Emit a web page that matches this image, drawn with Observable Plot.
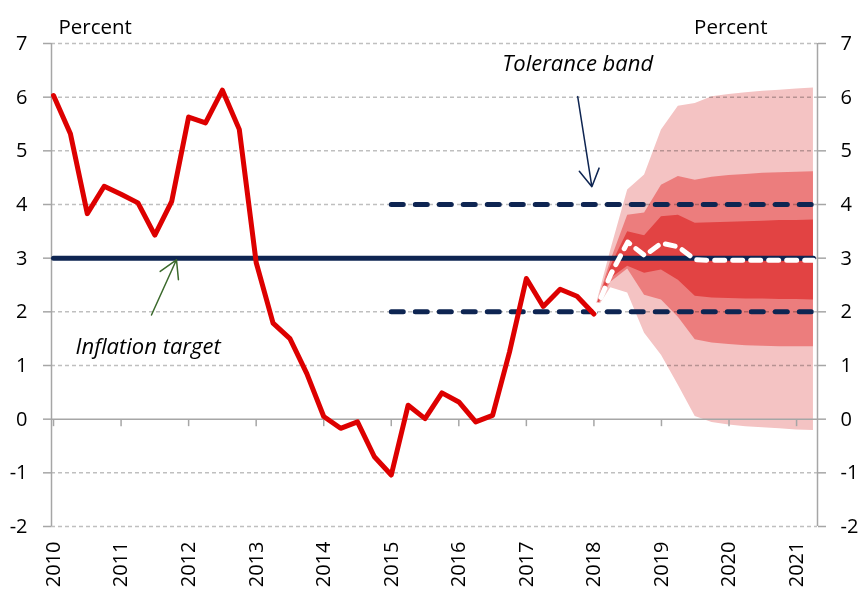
<!DOCTYPE html>
<html>
<head>
<meta charset="utf-8">
<script src="https://cdn.jsdelivr.net/npm/d3@7"></script>
<script src="https://cdn.jsdelivr.net/npm/@observablehq/plot@0.6"></script>
<style>
  html, body { margin: 0; padding: 0; background: #fff; }
  #chart svg { display: block; }
</style>
</head>
<body>
<div id="chart"></div>
<script>
// ---------- data (quarterly, starting 2010 Q1) ----------
const startYear = 2010;
const actualInflation = [
  6.03, 5.32, 3.83, 4.34,
  4.19, 4.03, 3.43, 4.06,
  5.63, 5.52, 6.13, 5.40,
  2.92, 1.79, 1.50, 0.85,
  0.05, -0.17, -0.05, -0.70,
  -1.04, 0.26, 0.01, 0.49,
  0.32, -0.05, 0.07, 1.25,
  2.62, 2.10, 2.42, 2.29,
  1.96
];
const forecastStartIndex = 32;
const forecastCentral = [1.96, 2.70, 3.30, 3.05, 3.28, 3.21, 2.97, 2.96, 2.96, 2.96, 2.96, 2.96, 2.96, 2.96];
const band90Low  = [1.96, 2.45, 2.35, 1.60, 1.19, 0.63, 0.05, -0.06, -0.11, -0.14, -0.16, -0.18, -0.20, -0.21];
const band90High = [1.96, 3.15, 4.27, 4.55, 5.39, 5.83, 5.88, 6.01, 6.05, 6.08, 6.11, 6.13, 6.15, 6.17];
const band60Low  = [1.96, 2.55, 2.80, 2.31, 2.22, 1.90, 1.48, 1.42, 1.39, 1.37, 1.36, 1.35, 1.35, 1.35];
const band60High = [1.96, 2.95, 3.80, 3.84, 4.36, 4.52, 4.45, 4.51, 4.54, 4.56, 4.58, 4.59, 4.60, 4.61];
const band30Low  = [1.96, 2.62, 2.85, 2.72, 2.78, 2.59, 2.29, 2.26, 2.25, 2.24, 2.24, 2.23, 2.23, 2.22];
const band30High = [1.96, 2.85, 3.49, 3.42, 3.77, 3.80, 3.65, 3.66, 3.67, 3.68, 3.69, 3.70, 3.70, 3.71];

const inflationTarget = 3;
const toleranceBand = [2, 4];
const toleranceStartIndex = 20;  // 2015 Q1
const lastIndex = 45;            // 2021 Q2

const yTicks = [-2, -1, 0, 1, 2, 3, 4, 5, 6, 7];
const yearTicks = [2010, 2011, 2012, 2013, 2014, 2015, 2016, 2017, 2018, 2019, 2020, 2021];
const xDomain = [2009.97, 2021.31];
const yDomain = [-2, 7];
const unitLabel = "Percent";

const noteLabels = ["Tolerance band", "Inflation target"];
const noteX = [2017.76, 2011.40];
const noteY = [6.62, 1.35];
const arrowFromX = [2017.76, 2011.45];
const arrowFromY = [6.01, 1.94];
const arrowToX = [2017.97, 2011.82];
const arrowToY = [4.33, 2.97];

// ---------- derived tables ----------
const q = (i) => startYear + i / 4;
const actual = actualInflation.map((v, i) => ({t: q(i), v}));
const fan = forecastCentral.map((c, k) => ({
  t: q(forecastStartIndex + k), c,
  lo90: band90Low[k], hi90: band90High[k],
  lo60: band60Low[k], hi60: band60High[k],
  lo30: band30Low[k], hi30: band30High[k]
}));
const targetLine = [{t: q(0), v: inflationTarget}, {t: q(lastIndex), v: inflationTarget}];
const tolLines = toleranceBand.flatMap((b) => [
  {t: q(toleranceStartIndex), v: b, key: b},
  {t: q(lastIndex), v: b, key: b}
]);
const notes = noteLabels.map((label, i) => ({label, x: noteX[i], y: noteY[i]}));
const arrows = noteLabels.map((label, i) => ({
  label, x1: arrowFromX[i], y1: arrowFromY[i], x2: arrowToX[i], y2: arrowToY[i]
}));

const navy = "#0E2552";
const grey = "#A6A6A6";
const font = "'Open Sans', 'DejaVu Sans', sans-serif";
const tickDown = {draw(ctx) { ctx.moveTo(0, 0); ctx.lineTo(0, 7); }};

const chart = Plot.plot({
  width: 861,
  height: 590,
  marginLeft: 51,
  marginRight: 44,
  marginTop: 43,
  marginBottom: 64,
  style: {fontFamily: font, fontSize: "20px", color: "#000", background: "#fff"},
  x: {type: "linear", domain: xDomain},
  y: {domain: yDomain},
  marks: [
    // fan chart
    Plot.areaY(fan, {x: "t", y1: "lo90", y2: "hi90", fill: "#F4C3C3"}),
    Plot.areaY(fan, {x: "t", y1: "lo60", y2: "hi60", fill: "#EC7D7D"}),
    Plot.areaY(fan, {x: "t", y1: "lo30", y2: "hi30", fill: "#E24343"}),
    // gridlines
    Plot.ruleY(yTicks.filter((d) => d !== 0), {
      y: (d) => d, stroke: "#BFBFBF", strokeWidth: 1.5, strokeDasharray: "4,3", mixBlendMode: "multiply"
    }),
    Plot.ruleY([0], {y: (d) => d, stroke: grey, strokeWidth: 1.5}),
    Plot.ruleX(xDomain, {x: (d) => d, stroke: grey, strokeWidth: 1.5}),
    Plot.dot(yearTicks, {x: (d) => d, y: () => 0, symbol: tickDown, stroke: grey, strokeWidth: 1.5, fill: "none"}),
    // axes
    Plot.axisY(yTicks, {anchor: "left", tickSize: 8, tickPadding: 16, tickFormat: (d) => String(d),
      stroke: grey, strokeWidth: 1.5, fill: "#000", fontSize: 20, label: null}),
    Plot.axisY(yTicks, {anchor: "right", tickSize: 8, tickPadding: 15, tickFormat: (d) => String(d),
      stroke: grey, strokeWidth: 1.5, fill: "#000", fontSize: 20, label: null}),
    Plot.axisX(yearTicks, {anchor: "bottom", tickSize: 0, tickPadding: 15, tickRotate: -90,
      tickFormat: (d) => String(d), fill: "#000", fontSize: 20, label: null}),
    // target and tolerance band
    Plot.line(targetLine, {x: "t", y: "v", stroke: navy, strokeWidth: 5, strokeLinecap: "round"}),
    Plot.line(tolLines, {x: "t", y: "v", z: "key", stroke: navy, strokeWidth: 5,
      strokeDasharray: "12,12", strokeLinecap: "round"}),
    // forecast central path
    Plot.line(fan, {x: "t", y: "c", stroke: "#fff", strokeWidth: 5, strokeDasharray: "10,8",
      strokeLinecap: "round", strokeLinejoin: "round"}),
    // actual inflation
    Plot.line(actual, {x: "t", y: "v", stroke: "#DD0000", strokeWidth: 5,
      strokeLinejoin: "round", strokeLinecap: "round"}),
    // annotations
    Plot.arrow(arrows.filter((d) => d.label === "Tolerance band"), {
      x1: "x1", y1: "y1", x2: "x2", y2: "y2", stroke: navy, strokeWidth: 1.5, headLength: 20, headAngle: 60
    }),
    Plot.arrow(arrows.filter((d) => d.label === "Inflation target"), {
      x1: "x1", y1: "y1", x2: "x2", y2: "y2", stroke: "#3B6A2C", strokeWidth: 1.5, headLength: 20, headAngle: 60
    }),
    Plot.text(notes, {x: "x", y: "y", text: "label", fontStyle: "italic", fontSize: 22, fill: "#000"}),
    Plot.text([unitLabel], {frameAnchor: "top-left", text: (d) => d, dx: 7, dy: -24, textAnchor: "start", fontSize: 20.5, fill: "#000"}),
    Plot.text([unitLabel], {frameAnchor: "top-right", text: (d) => d, dx: -50, dy: -24, textAnchor: "end", fontSize: 20.5, fill: "#000"})
  ]
});
document.getElementById("chart").appendChild(chart);
</script>
</body>
</html>
